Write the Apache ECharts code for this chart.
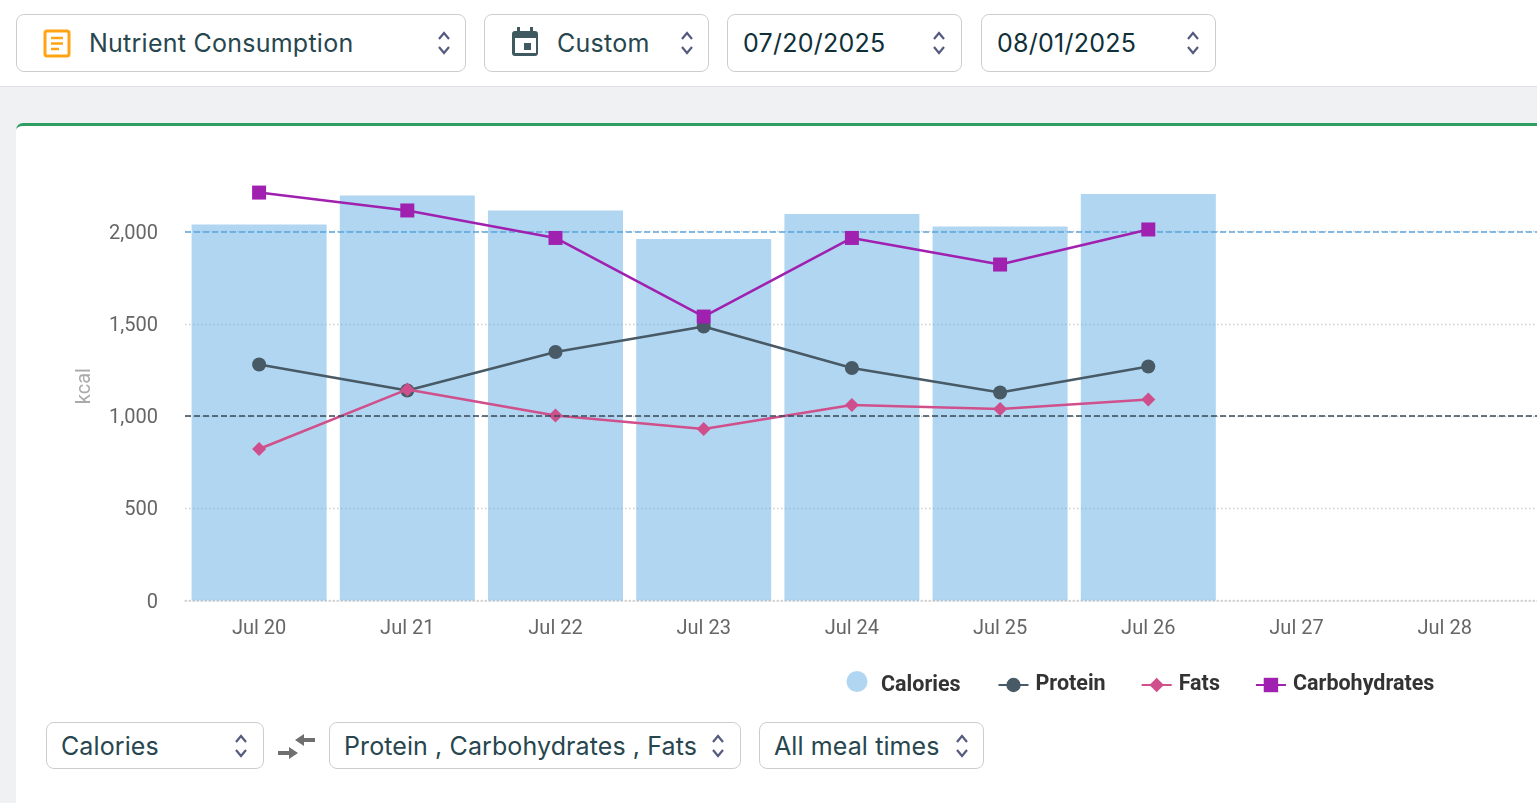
<!DOCTYPE html>
<html><head><meta charset="utf-8">
<script src="https://cdn.jsdelivr.net/npm/echarts@6/dist/echarts.min.js"></script>
<style>
html,body{margin:0;padding:0;width:1537px;height:803px;overflow:hidden;background:#f0f1f3;font-family:Inter,Roboto,sans-serif;}
#top{position:absolute;left:0;top:0;width:1537px;height:86px;background:#fff;border-bottom:1px solid #dfe0e3;}
#card{position:absolute;left:16px;top:123px;width:1540px;height:700px;background:#fff;border-top:3px solid #2f9e63;border-radius:7px 0 0 0;box-sizing:border-box;}
#wrap{position:absolute;left:0;top:0;width:1537px;height:803px;overflow:hidden;}
#chart{position:absolute;left:0;top:0;width:2200px;height:803px;}
.sel{position:absolute;box-sizing:border-box;background:#fff;border:1px solid #cccdd0;border-radius:8px;color:#27464e;font-size:25px;white-space:nowrap;display:flex;align-items:center;z-index:3;letter-spacing:.25px;}
.sel.low{letter-spacing:.1px;}
.sel span{position:absolute;}
.sel svg.ch{position:absolute;width:14px;height:26px;}
.date{color:#0f2f39;}
.ic{position:absolute;z-index:3;}
</style></head>
<body>
<div id="top"></div><div id="card"></div>
<div id="wrap"><div id="chart"></div></div>
<svg width="0" height="0" style="position:absolute"><defs><g id="chev"><path d="M2 9 L7 3 L12 9 M2 17 L7 23 L12 17" fill="none" stroke="#545b7e" stroke-width="2.2"/></g></defs></svg>

<div class="sel" style="left:16px;top:14px;width:450px;height:58px"><span style="left:72px">Nutrient Consumption</span><svg class="ch" style="left:420px;top:15px"><use href="#chev"/></svg></div>
<svg class="ic" style="left:43px;top:29px" width="29" height="29" viewBox="0 0 29 29"><rect x="2" y="2" width="24" height="25" rx="2" fill="#fff" stroke="#ffa414" stroke-width="3"/><path d="M8 9H20M8 14.500H20M8 20H16" stroke="#ffa414" stroke-width="2.6"/></svg>

<div class="sel" style="left:484px;top:14px;width:225px;height:58px"><span style="left:72px">Custom</span><svg class="ch" style="left:195px;top:15px"><use href="#chev"/></svg></div>
<svg class="ic" style="left:511px;top:26px" width="29" height="31" viewBox="0 0 29 31"><path d="M6 1h3v4h10V1h3v4h2a3 3 0 0 1 3 3v19a3 3 0 0 1-3 3H4a3 3 0 0 1-3-3V8a3 3 0 0 1 3-3h2z" fill="#3f5960"/><rect x="4" y="12" width="21" height="15" fill="#fff"/><rect x="13" y="17" width="7" height="7" fill="#3f5960"/></svg>

<div class="sel date" style="left:727px;top:14px;width:235px;height:58px"><span style="left:15px">07/20/2025</span><svg class="ch" style="left:204px;top:15px"><use href="#chev"/></svg></div>
<div class="sel date" style="left:981px;top:14px;width:235px;height:58px"><span style="left:15px">08/01/2025</span><svg class="ch" style="left:204px;top:15px"><use href="#chev"/></svg></div>

<div class="sel low" style="left:46px;top:722px;width:218px;height:47px"><span style="left:14px">Calories</span><svg class="ch" style="left:187px;top:10px"><use href="#chev"/></svg></div>
<svg class="ic" style="left:277px;top:733px" width="39" height="27" viewBox="0 0 39 27"><path d="M38 5H27V1L18 7l9 6V9h11z M1 18h11v-4l9 6-9 6v-4H1z" fill="#6f6f6f"/></svg>
<div class="sel low" style="left:329px;top:722px;width:412px;height:47px"><span style="left:14px">Protein , Carbohydrates , Fats</span><svg class="ch" style="left:381px;top:10px"><use href="#chev"/></svg></div>
<div class="sel low" style="left:759px;top:722px;width:225px;height:47px"><span style="left:14px">All meal times</span><svg class="ch" style="left:195px;top:10px"><use href="#chev"/></svg></div>

<script>
const categories = ['Jul 20','Jul 21','Jul 22','Jul 23','Jul 24','Jul 25','Jul 26','Jul 27','Jul 28','Jul 29','Jul 30','Jul 31','Aug 1'];
const calories = [2038,2195,2114,1960,2095,2027,2203,null,null,null,null,null,null];
const protein = [1279,1138,1347,1485,1260,1127,1268,null,null,null,null,null,null];
const fats = [821,1144,1003,930,1060,1038,1089,null,null,null,null,null,null];
const carbohydrates = [2211,2114,1965,1539,1965,1821,2011,null,null,null,null,null,null];
const calorieTarget = 2000;
const proteinTarget = 1000;
const unit = 'kcal';

const chart = echarts.init(document.getElementById('chart'), null, {renderer:'canvas'});
const refLine = (v,c)=>({silent:true,symbol:'none',label:{show:false},lineStyle:{color:c,type:'dashed',width:1.5,opacity:1},emphasis:{disabled:true},animation:false,data:[{yAxis:v}]});
const legendFont = {fontFamily:'Roboto',fontSize:21.5,fontWeight:700,color:'#333'};
chart.setOption({
  animation:false,
  backgroundColor:'transparent',
  textStyle:{fontFamily:'Roboto'},
  grid:{left:185,top:157.7,width:1926.6,height:442.8,containLabel:false},
  legend:[
    {left:841.5,top:666,itemWidth:30,itemHeight:21,formatter:n=>'{a|'+n+'}',
     textStyle:{...legendFont,rich:{a:{...legendFont,padding:[8,0,0,4]}}},data:[{name:'Calories',icon:'circle'}]},
    {left:992.5,top:669,itemWidth:30,itemHeight:18,itemGap:35,textStyle:{...legendFont,padding:[0,0,0,2]},data:[{name:'Protein'},{name:'Fats'},{name:'Carbohydrates'}]}
  ],
  xAxis:{type:'category',data:categories,
    axisLine:{lineStyle:{color:'#cfcfcf',type:[1.5,2.5],width:1.5}},
    axisTick:{show:false},
    axisLabel:{color:'#666',fontSize:20,margin:18,interval:0}},
  yAxis:{type:'value',min:0,max:2400,interval:500,name:unit,nameLocation:'middle',nameGap:90,
    nameTextStyle:{color:'#aaa',fontSize:20,padding:[0,14,0,0]},
    axisLine:{show:false},axisTick:{show:false},
    axisLabel:{color:'#666',fontSize:20,margin:27,verticalAlign:'top',padding:[-8,0,0,0],showMaxLabel:false,formatter:v=>v.toLocaleString('en-US')},
    splitLine:{showMaxLine:false,lineStyle:{color:'#cfcfcf',type:[1.5,2.5],width:1.3}}},
  series:[
    {name:'Calories',type:'bar',data:calories,barWidth:135,itemStyle:{color:'#64aee3',opacity:.5},z:2,markLine:refLine(calorieTarget,'#5aa6e0')},
    {name:'Protein',type:'line',data:protein,symbol:'circle',symbolSize:14,showAllSymbol:true,lineStyle:{color:'#475a66',width:2.5},itemStyle:{color:'#475a66'},z:3,markLine:refLine(proteinTarget,'#3a4a56')},
    {name:'Fats',type:'line',data:fats,symbol:'diamond',symbolSize:14,showAllSymbol:true,lineStyle:{color:'#d0508c',width:2.5},itemStyle:{color:'#cf4f8c'},z:4},
    {name:'Carbohydrates',type:'line',data:carbohydrates,symbol:'rect',symbolSize:14,showAllSymbol:true,lineStyle:{color:'#a020b0',width:2.5},itemStyle:{color:'#a020b0'},z:5}
  ]
});
</script>
</body></html>
